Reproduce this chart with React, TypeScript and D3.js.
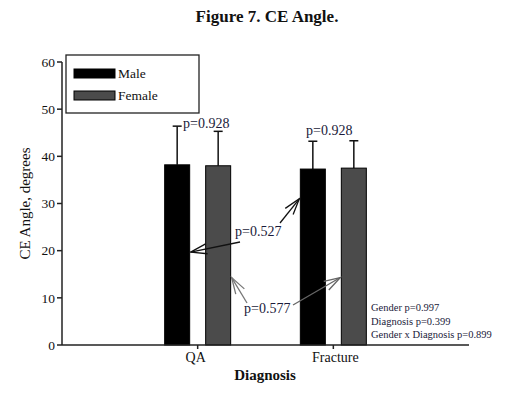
import React from "react";
import * as d3 from "d3";

const categories = ["QA", "Fracture"];
const genders = ["Male", "Female"];
const meanQA = [38.2, 38.0];
const meanFracture = [37.3, 37.5];
const sdQA = [8.2, 7.3];
const sdFracture = [5.9, 5.8];
const yTicks = [0, 10, 20, 30, 40, 50, 60];
const statLines = ["Gender p=0.997", "Diagnosis p=0.399", "Gender x Diagnosis p=0.899"];
const fills = ["#000000", "#4b4b4b"];

const W = 514, H = 399;
const FONT = "'Liberation Serif', 'Times New Roman', serif";

export default function App() {
  const x = d3.scalePoint<string>().domain(categories).range([62, 469]).padding(1);
  const xg = d3.scaleBand<string>().domain(genders).range([-33, 33]).paddingInner(0.39);
  const y = d3.scaleLinear().domain([0, 60]).range([345, 62]);

  const data = [
    { cat: "QA", means: meanQA, sds: sdQA },
    { cat: "Fracture", means: meanFracture, sds: sdFracture },
  ];
  const cx = (c: string) => x(c) as number;
  const barL = (c: string, g: string) => cx(c) + (xg(g) as number);
  const barR = (c: string, g: string) => barL(c, g) + xg.bandwidth();

  const arrow = (x1: number, y1: number, x2: number, y2: number, color: string, key: string) => {
    const ang = Math.atan2(y1 - y2, x1 - x2);
    const L = 17, a = 0.3;
    const p1 = [x2 + L * Math.cos(ang + a), y2 + L * Math.sin(ang + a)];
    const p2 = [x2 + L * Math.cos(ang - a), y2 + L * Math.sin(ang - a)];
    return (
      <g key={key} stroke={color} strokeWidth={1.3} fill="none">
        <line x1={x1} y1={y1} x2={x2} y2={y2} />
        <path d={`M${p1[0]},${p1[1]}L${x2},${y2}L${p2[0]},${p2[1]}`} />
      </g>
    );
  };

  return (
    <svg width={W} height={H} style={{ position: "absolute", left: 0, top: 0 }} fontFamily={FONT}>
      <rect width={W} height={H} fill="#fff" />
      <text x={267} y={22} textAnchor="middle" fontWeight="bold" fontSize={17} fill="#111">Figure 7. CE Angle.</text>

      {/* bars */}
      {data.map((d) =>
        genders.map((g, i) => {
          const bx = barL(d.cat, g);
          const bw = xg.bandwidth();
          const c = bx + bw / 2;
          const top = y(d.means[i] + d.sds[i]);
          return (
            <g key={d.cat + g}>
              <line x1={c} x2={c} y1={y(d.means[i])} y2={top} stroke="#111" strokeWidth={1.5} />
              <line x1={c - 4.5} x2={c + 4.5} y1={top} y2={top} stroke="#111" strokeWidth={1.5} />
              <rect x={bx} y={y(d.means[i])} width={bw} height={y(0) - y(d.means[i])} fill={fills[i]} stroke="#000" strokeWidth={1} />
            </g>
          );
        })
      )}

      {/* axes */}
      <line x1={62} x2={62} y1={y(60)} y2={y(0)} stroke="#222" strokeWidth={1.5} />
      <line x1={62} x2={469} y1={y(0)} y2={y(0)} stroke="#222" strokeWidth={1.5} />
      {yTicks.map((t) => (
        <g key={t}>
          <line x1={57} x2={62} y1={y(t)} y2={y(t)} stroke="#222" strokeWidth={1.5} />
          <text x={55} y={y(t)} dy="0.35em" textAnchor="end" fontSize={13.5} fill="#111">{t}</text>
        </g>
      ))}
      {categories.map((c) => (
        <g key={c}>
          <line x1={cx(c)} x2={cx(c)} y1={y(0)} y2={y(0) + 4} stroke="#222" strokeWidth={1.5} />
          <text x={cx(c) + (c === "QA" ? -2 : 2)} y={362} textAnchor="middle" fontSize={14} fill="#111">{c}</text>
        </g>
      ))}
      <text x={265} y={380} textAnchor="middle" fontSize={15} fontWeight="bold" fill="#111">Diagnosis</text>
      <text transform={`translate(30,${(y(0) + y(60)) / 2}) rotate(-90)`} textAnchor="middle" fontSize={15} fill="#111">CE Angle, degrees</text>

      {/* legend */}
      <rect x={66} y={55} width={133} height={58} fill="#fff" stroke="#222" strokeWidth={1.3} />
      {genders.map((g, i) => (
        <g key={g}>
          <rect x={74} y={69 + i * 22} width={41} height={9} fill={fills[i]} stroke="#000" strokeWidth={1} />
          <text x={118} y={78 + i * 22} fontSize={13.5} fill="#111">{g}</text>
        </g>
      ))}

      {/* annotations */}
      <text x={183} y={128} fontSize={14} fill="#1a1a3a">p=0.928</text>
      <text x={306} y={135} fontSize={14} fill="#1a1a3a">p=0.928</text>
      <text x={235} y={236} fontSize={14} fill="#1a1a3a">p=0.527</text>
      <text x={244} y={313} fontSize={14} fill="#1a1a3a">p=0.577</text>
      {arrow(240, 242, barR("QA", "Male") + 1, y(19.7), "#111", "a1")}
      {arrow(280, 223, barL("Fracture", "Male") - 1, y(31), "#111", "a2")}
      {arrow(247, 303, barR("QA", "Female") + 1, y(14.3), "#777", "a3")}
      {arrow(293, 305, barL("Fracture", "Female") - 1, y(14.3), "#666", "a4")}

      {statLines.map((s, i) => (
        <text key={s} x={371} y={311 + i * 13.5} fontSize={10.5} fill="#1a1a3a">{s}</text>
      ))}
    </svg>
  );
}
